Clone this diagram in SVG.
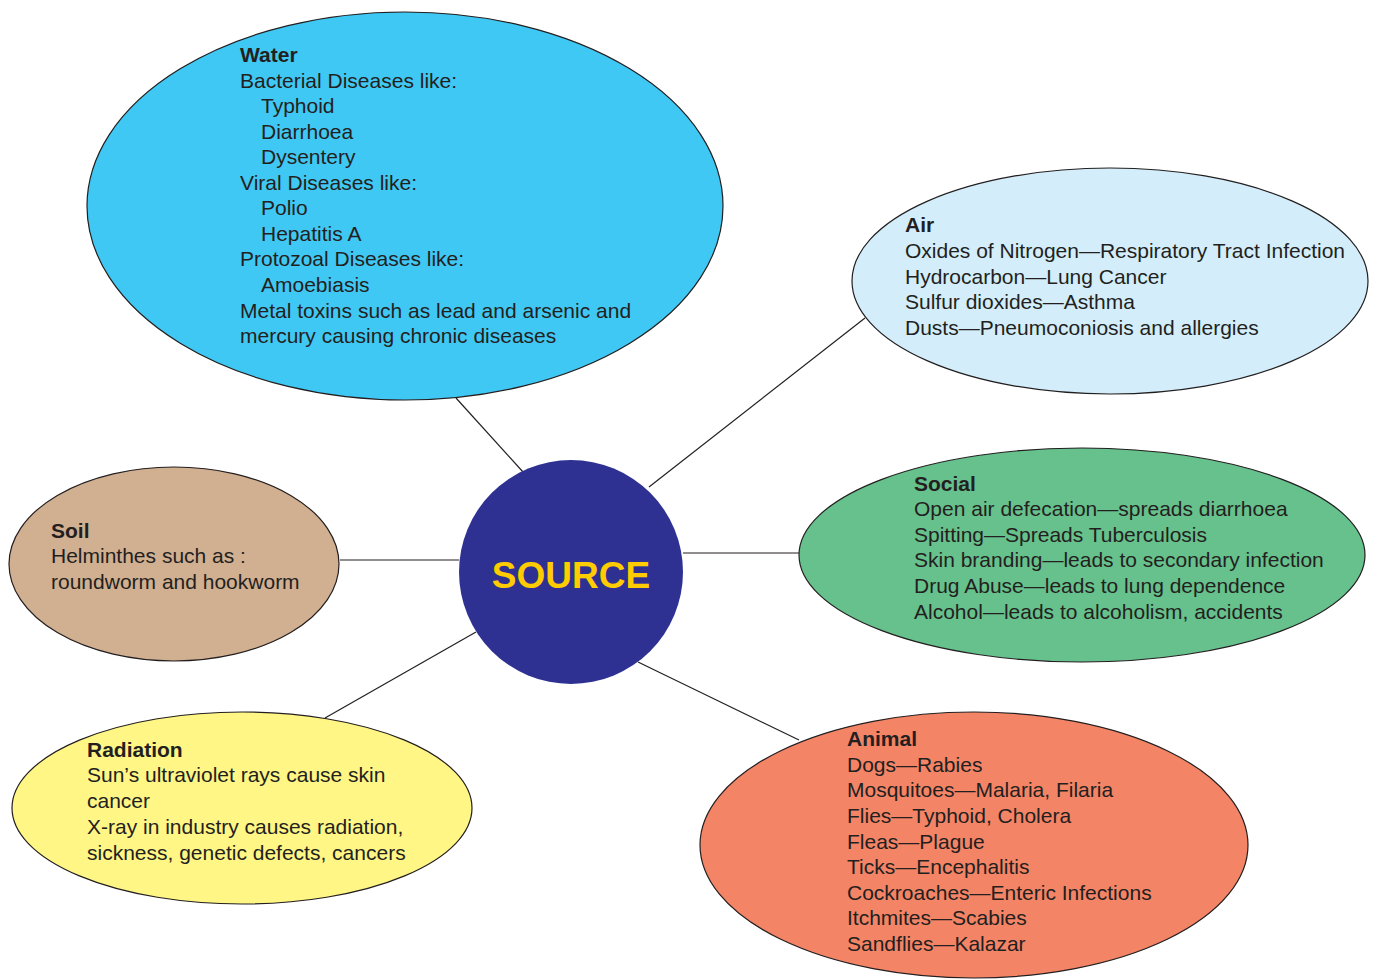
<svg xmlns="http://www.w3.org/2000/svg" width="1377" height="979" viewBox="0 0 1377 979">
<style>
.n{stroke:#231F20;stroke-width:1.2}
.t{font-family:"Liberation Sans",Arial,sans-serif;font-size:21px;fill:#231F20}
.b{font-weight:bold}
.c line{stroke:#231F20;stroke-width:1.2}
</style>
<rect width="1377" height="979" fill="#fff"/>
<g class="c" id="connectors">
<line x1="456" y1="398" x2="523" y2="472"/>
<line x1="865" y1="318" x2="649" y2="487"/>
<line x1="683" y1="553" x2="799" y2="553"/>
<line x1="638" y1="662" x2="799" y2="740"/>
<line x1="340" y1="560" x2="459" y2="560"/>
<line x1="325" y1="718" x2="476" y2="632"/>
</g>
<g id="water">
<ellipse class="n" cx="405" cy="206" rx="318" ry="194" fill="#40C8F4"/>
<text class="t"><tspan class="b" x="240" y="62">Water</tspan><tspan x="240" y="88">Bacterial Diseases like:</tspan><tspan x="261" y="113">Typhoid</tspan><tspan x="261" y="139">Diarrhoea</tspan><tspan x="261" y="164">Dysentery</tspan><tspan x="240" y="190">Viral Diseases like:</tspan><tspan x="261" y="215">Polio</tspan><tspan x="261" y="241">Hepatitis A</tspan><tspan x="240" y="266">Protozoal Diseases like:</tspan><tspan x="261" y="292">Amoebiasis</tspan><tspan x="240" y="318">Metal toxins such as lead and arsenic and</tspan><tspan x="240" y="343">mercury causing chronic diseases</tspan></text>
</g>
<g id="air">
<ellipse class="n" cx="1110" cy="281" rx="258" ry="113" fill="#D3EEFA"/>
<text class="t"><tspan class="b" x="905" y="232">Air</tspan><tspan x="905" y="258">Oxides of Nitrogen—Respiratory Tract Infection</tspan><tspan x="905" y="284">Hydrocarbon—Lung Cancer</tspan><tspan x="905" y="309">Sulfur dioxides—Asthma</tspan><tspan x="905" y="335">Dusts—Pneumoconiosis and allergies</tspan></text>
</g>
<g id="social">
<ellipse class="n" cx="1082" cy="555" rx="283" ry="107" fill="#66C18C"/>
<text class="t"><tspan class="b" x="914" y="491">Social</tspan><tspan x="914" y="516">Open air defecation—spreads diarrhoea</tspan><tspan x="914" y="542">Spitting—Spreads Tuberculosis</tspan><tspan x="914" y="567">Skin branding—leads to secondary infection</tspan><tspan x="914" y="593">Drug Abuse—leads to lung dependence</tspan><tspan x="914" y="619">Alcohol—leads to alcoholism, accidents</tspan></text>
</g>
<g id="animal">
<ellipse class="n" cx="974" cy="845" rx="274" ry="133" fill="#F48466"/>
<text class="t"><tspan class="b" x="847" y="746">Animal</tspan><tspan x="847" y="772">Dogs—Rabies</tspan><tspan x="847" y="797">Mosquitoes—Malaria, Filaria</tspan><tspan x="847" y="823">Flies—Typhoid, Cholera</tspan><tspan x="847" y="849">Fleas—Plague</tspan><tspan x="847" y="874">Ticks—Encephalitis</tspan><tspan x="847" y="900">Cockroaches—Enteric Infections</tspan><tspan x="847" y="925">Itchmites—Scabies</tspan><tspan x="847" y="951">Sandflies—Kalazar</tspan></text>
</g>
<g id="soil">
<ellipse class="n" cx="174" cy="564" rx="165" ry="97" fill="#D1AF91"/>
<text class="t"><tspan class="b" x="51" y="538">Soil</tspan><tspan x="51" y="563">Helminthes such as :</tspan><tspan x="51" y="589">roundworm and hookworm</tspan></text>
</g>
<g id="radiation">
<ellipse class="n" cx="242" cy="808" rx="230" ry="96" fill="#FFF685"/>
<text class="t"><tspan class="b" x="87" y="757">Radiation</tspan><tspan x="87" y="782">Sun’s ultraviolet rays cause skin</tspan><tspan x="87" y="808">cancer</tspan><tspan x="87" y="834">X-ray in industry causes radiation,</tspan><tspan x="87" y="860">sickness, genetic defects, cancers</tspan></text>
</g>
<g id="source">
<circle cx="571" cy="572" r="112" fill="#2E3192"/>
<text x="571" y="588" text-anchor="middle" style="font-family:'Liberation Sans',Arial,sans-serif;font-size:37px;font-weight:bold;fill:#FFCC00">SOURCE</text>
</g>
</svg>
